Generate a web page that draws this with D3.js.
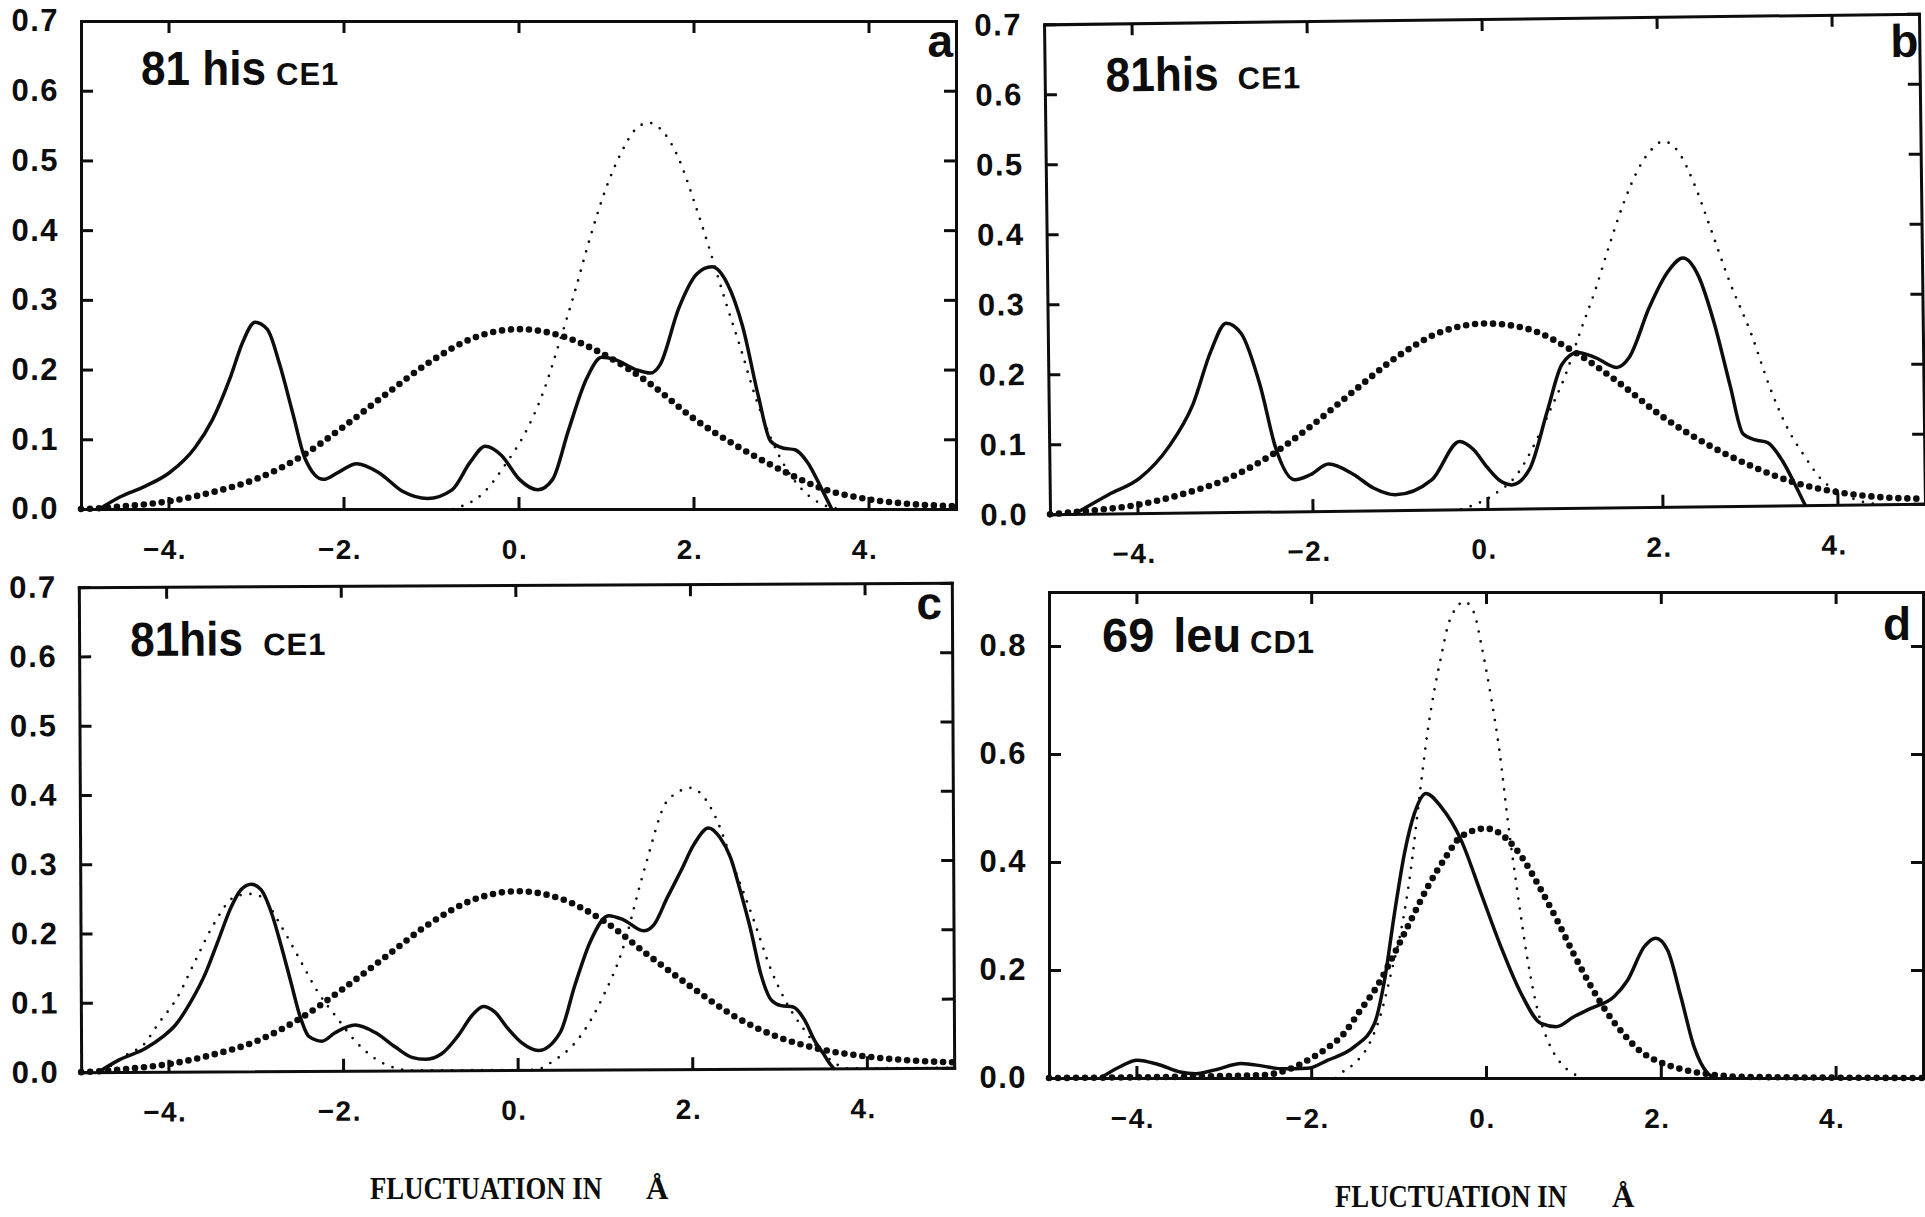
<!DOCTYPE html>
<html>
<head>
<meta charset="utf-8">
<script src="https://cdn.jsdelivr.net/npm/d3@7"></script>
<style>
  html, body { margin: 0; padding: 0; background: #fff; }
  svg { display: block; }
</style>
</head>
<body>
<svg id="fig" width="1925" height="1217"></svg>
<script>
// ---- tick values and labels ----
const xTickValues = [-4, -2, 0, 2, 4];
const xTickLabels = ["\u22124.", "\u22122.", "0.", "2.", "4."];
const yTicksHis = [0, 0.1, 0.2, 0.3, 0.4, 0.5, 0.6, 0.7];
const yLabelsHis = ["0.0", "0.1", "0.2", "0.3", "0.4", "0.5", "0.6", "0.7"];
const yTicksLeu = [0, 0.2, 0.4, 0.6, 0.8];
const yLabelsLeu = ["0.0", "0.2", "0.4", "0.6", "0.8"];

// ---- panel a : 81 his CE1 ----
const solidA = [[-4.79,0],[-4.55,0.0175],[-4.27,0.0325],[-3.99,0.052],[-3.70,0.0875],[-3.50,0.1275],[-3.29,0.19],[-3.15,0.24],[-3.01,0.268],[-2.87,0.2575],[-2.73,0.2075],[-2.58,0.1375],[-2.44,0.0725],[-2.23,0.0425],[-2.06,0.0525],[-1.85,0.065],[-1.60,0.0525],[-1.32,0.025],[-1.04,0.015],[-0.76,0.0275],[-0.55,0.0675],[-0.38,0.09],[-0.20,0.0775],[0.01,0.0425],[0.22,0.0275],[0.39,0.0425],[0.57,0.1125],[0.78,0.1875],[0.95,0.2175],[1.09,0.215],[1.34,0.2],[1.51,0.195],[1.62,0.2075],[1.83,0.2875],[2.04,0.3375],[2.21,0.3475],[2.39,0.3225],[2.56,0.2625],[2.74,0.1625],[2.88,0.0975],[3.02,0.0875],[3.16,0.085],[3.30,0.0675],[3.47,0.0275],[3.58,0]];
const thinA = [[-0.75,0],[-0.41,0.022],[-0.13,0.0675],[0.08,0.11],[0.29,0.17],[0.47,0.24],[0.64,0.31],[0.82,0.39],[1.0,0.46],[1.17,0.51],[1.34,0.545],[1.49,0.554],[1.66,0.54],[1.84,0.5],[2.01,0.44],[2.19,0.37],[2.36,0.30],[2.54,0.23],[2.71,0.16],[2.89,0.10],[3.06,0.058],[3.24,0.028],[3.45,0.008],[3.66,0]];
const boldA = [[-5,0],[-4.8,0.001],[-4.5,0.004],[-4,0.011],[-3.5,0.024],[-3,0.043],[-2.5,0.074],[-2,0.118],[-1.5,0.166],[-1,0.212],[-0.5,0.246],[0,0.258],[0.5,0.248],[1,0.22],[1.5,0.18],[2,0.13],[2.5,0.09],[3,0.056],[3.5,0.028],[4,0.014],[4.5,0.007],[5,0.004]];

// ---- panel b : 81 his CE1 ----
const solidB = [[-4.72,0],[-4.33,0.027],[-3.97,0.05],[-3.63,0.095],[-3.35,0.155],[-3.14,0.23],[-2.96,0.27],[-2.79,0.255],[-2.58,0.18],[-2.41,0.09],[-2.2,0.045],[-2.02,0.052],[-1.81,0.067],[-1.53,0.052],[-1.3,0.032],[-1.05,0.022],[-0.63,0.043],[-0.31,0.097],[-0.15,0.085],[0.0,0.06],[0.15,0.04],[0.28,0.034],[0.49,0.057],[0.7,0.14],[0.87,0.205],[1.05,0.222],[1.26,0.214],[1.5,0.2],[1.64,0.214],[1.88,0.286],[2.09,0.335],[2.27,0.355],[2.44,0.33],[2.62,0.26],[2.79,0.172],[2.93,0.103],[3.07,0.094],[3.21,0.09],[3.38,0.063],[3.52,0.029],[3.63,0]];
const thinB = [[-0.3,0],[0.07,0.02],[0.35,0.05],[0.56,0.095],[0.73,0.14],[0.91,0.19],[1.08,0.25],[1.26,0.31],[1.43,0.375],[1.60,0.435],[1.78,0.485],[1.92,0.51],[2.06,0.522],[2.23,0.507],[2.41,0.46],[2.58,0.40],[2.80,0.32],[3.04,0.245],[3.24,0.17],[3.44,0.11],[3.63,0.07],[3.83,0.035],[4.03,0.018],[4.25,0.005],[4.5,0]];
const boldB = [[-5,0],[-4.7,0.003],[-4.5,0.005],[-4,0.012],[-3.5,0.026],[-3,0.046],[-2.5,0.078],[-2,0.122],[-1.5,0.172],[-1,0.22],[-0.5,0.254],[0,0.265],[0.5,0.256],[1,0.224],[1.5,0.18],[2,0.13],[2.5,0.09],[3,0.058],[3.5,0.033],[4,0.018],[4.5,0.01],[5,0.007]];

// ---- panel c : 81 his CE1 ----
const solidC = [[-4.8,0],[-4.57,0.017],[-4.26,0.034],[-4.07,0.05],[-3.92,0.067],[-3.73,0.103],[-3.57,0.142],[-3.42,0.19],[-3.27,0.238],[-3.16,0.262],[-3.04,0.27],[-2.93,0.262],[-2.81,0.228],[-2.7,0.18],[-2.59,0.127],[-2.49,0.079],[-2.39,0.05],[-2.24,0.043],[-2.09,0.055],[-1.86,0.066],[-1.63,0.055],[-1.4,0.034],[-1.21,0.019],[-1.06,0.016],[-0.87,0.024],[-0.68,0.05],[-0.52,0.079],[-0.39,0.092],[-0.26,0.084],[-0.11,0.06],[0.05,0.039],[0.24,0.028],[0.49,0.054],[0.66,0.122],[0.84,0.185],[1.05,0.222],[1.22,0.216],[1.45,0.2],[1.57,0.209],[1.72,0.247],[1.88,0.286],[2.03,0.324],[2.2,0.348],[2.33,0.334],[2.45,0.305],[2.56,0.257],[2.68,0.199],[2.79,0.137],[2.91,0.099],[3.02,0.091],[3.16,0.089],[3.29,0.07],[3.4,0.041],[3.5,0.022],[3.57,0.008],[3.62,0]];
const thinC = [[-4.75,0],[-4.45,0.027],[-4.30,0.037],[-4.11,0.07],[-3.90,0.106],[-3.69,0.159],[-3.48,0.211],[-3.23,0.252],[-3.06,0.256],[-2.93,0.252],[-2.70,0.209],[-2.49,0.161],[-2.28,0.113],[-2.07,0.077],[-1.86,0.043],[-1.65,0.019],[-1.38,0.003],[-1.2,0],[0.2,0],[0.4,0.012],[0.7,0.045],[1.0,0.11],[1.2,0.17],[1.42,0.27],[1.5,0.305],[1.70,0.382],[1.84,0.399],[1.99,0.406],[2.18,0.387],[2.30,0.358],[2.49,0.291],[2.70,0.219],[2.91,0.142],[3.08,0.096],[3.29,0.055],[3.50,0.022],[3.8,0],[5,0]];
const boldC = [[-5,0],[-4.8,0.001],[-4.5,0.004],[-4,0.011],[-3.5,0.024],[-3,0.043],[-2.5,0.075],[-2,0.118],[-1.5,0.165],[-1,0.212],[-0.5,0.246],[0,0.258],[0.5,0.247],[1,0.214],[1.5,0.165],[2,0.118],[2.5,0.075],[3,0.045],[3.5,0.027],[4,0.017],[4.5,0.011],[5,0.008]];

// ---- panel d : 69 leu CD1 ----
const solidD = [[-4.41,0],[-4.2,0.02],[-3.99,0.033],[-3.75,0.025],[-3.5,0.011],[-3.32,0.008],[-3.1,0.015],[-2.8,0.027],[-2.55,0.022],[-2.34,0.017],[-2.04,0.018],[-1.81,0.033],[-1.505,0.058],[-1.276,0.101],[-1.161,0.181],[-1.047,0.305],[-0.933,0.416],[-0.819,0.49],[-0.686,0.527],[-0.514,0.502],[-0.286,0.441],[-0.057,0.342],[0.171,0.243],[0.4,0.157],[0.629,0.101],[0.8,0.095],[1.01,0.114],[1.2,0.129],[1.467,0.151],[1.62,0.181],[1.81,0.243],[1.943,0.259],[2.077,0.237],[2.229,0.151],[2.38,0.058],[2.534,0.009],[2.62,0]];
const thinD = [[-1.72,0],[-1.657,0.009],[-1.505,0.027],[-1.352,0.058],[-1.2,0.12],[-1.086,0.194],[-0.971,0.274],[-0.876,0.367],[-0.743,0.546],[-0.666,0.644],[-0.59,0.719],[-0.514,0.78],[-0.438,0.836],[-0.343,0.87],[-0.248,0.882],[-0.133,0.86],[-0.057,0.805],[0.057,0.706],[0.153,0.607],[0.248,0.478],[0.362,0.342],[0.476,0.219],[0.59,0.126],[0.705,0.07],[0.857,0.027],[0.99,0.009],[1.1,0]];
const boldD = [[-5,0],[-2.6,0.005],[-2.27,0.015],[-2.038,0.033],[-1.848,0.052],[-1.638,0.08],[-1.448,0.123],[-1.238,0.172],[-1.047,0.231],[-0.857,0.293],[-0.666,0.354],[-0.457,0.41],[-0.286,0.447],[0,0.462],[0.229,0.444],[0.419,0.407],[0.61,0.354],[0.811,0.293],[0.999,0.231],[1.193,0.172],[1.39,0.12],[1.582,0.08],[1.771,0.049],[1.98,0.03],[2.2,0.018],[2.5,0.008],[3,0.002],[5,0]];

// ---- layout of the four frames ----
const panels = [
  { letter: "a", res: "81 his", atom: "CE1", solid: solidA, thin: thinA, bold: boldA,
    yMax: 0.7, yTicks: yTicksHis, yLabels: yLabelsHis,
    box: { left: 81, right: 956, top: 21, bottom: 509 }, rot: 0,
    resPos: [141, 85], resScale: 0.92, resSpace: 0, atomPos: [276, 85], letterPos: [953, 57] },
  { letter: "b", res: "81his", atom: "CE1", solid: solidB, thin: thinB, bold: boldB,
    yMax: 0.7, yTicks: yTicksHis, yLabels: yLabelsHis,
    box: { left: 1047, right: 1922, top: 19, bottom: 509 }, rot: -0.7,
    resPos: [1108, 87], resScale: 0.92, resSpace: 0, atomPos: [1240, 86], letterPos: [1921, 62] },
  { letter: "c", res: "81his", atom: "CE1", solid: solidC, thin: thinC, bold: boldC,
    yMax: 0.7, yTicks: yTicksHis, yLabels: yLabelsHis,
    box: { left: 80, right: 953, top: 585, bottom: 1070 }, rot: -0.28,
    resPos: [131, 654], resScale: 0.92, resSpace: 0, atomPos: [264, 654], letterPos: [943, 621] },
  { letter: "d", res: "69 leu", atom: "CD1", solid: solidD, thin: thinD, bold: boldD,
    yMax: 0.9, yTicks: yTicksLeu, yLabels: yLabelsLeu,
    box: { left: 1049, right: 1923, top: 592, bottom: 1078 }, rot: 0,
    resPos: [1102, 652], resScale: 0.98, resSpace: 6, atomPos: [1250, 653], letterPos: [1911, 640] }
];

const INK = "#0d0d0d";
const SANS = "'Liberation Sans', Arial, Helvetica, sans-serif";
const SERIF = "'Liberation Serif', 'Times New Roman', serif";
const svg = d3.select("#fig");

panels.forEach(p => {
  const b = p.box;
  const cx = (b.left + b.right) / 2, cy = (b.top + b.bottom) / 2;
  const g = svg.append("g").attr("transform", `rotate(${p.rot},${cx},${cy})`);

  const x = d3.scaleLinear().domain([-5, 5]).range([b.left, b.right]);
  const y = d3.scaleLinear().domain([0, p.yMax]).range([b.bottom, b.top]);

  // frame: four axes with inward ticks
  const gB = g.append("g").attr("transform", `translate(0,${b.bottom})`)
    .call(d3.axisBottom(x).tickValues(xTickValues)
      .tickFormat((d, i) => xTickLabels[i]).tickSize(-12).tickSizeOuter(0).tickPadding(30));
  gB.selectAll("text").attr("dx", -4)
    .style("font", `bold 28px ${SANS}`).style("letter-spacing", "1.5px");

  g.append("g").attr("transform", `translate(0,${b.top})`)
    .call(d3.axisTop(x).tickValues(xTickValues).tickFormat("").tickSize(-12).tickSizeOuter(0));

  const gL = g.append("g").attr("transform", `translate(${b.left},0)`)
    .call(d3.axisLeft(y).tickValues(p.yTicks)
      .tickFormat((d, i) => p.yLabels[i]).tickSize(-12).tickSizeOuter(0).tickPadding(22));
  gL.selectAll("text").style("font", `bold 31px ${SANS}`).style("letter-spacing", "1.5px");

  g.append("g").attr("transform", `translate(${b.right},0)`)
    .call(d3.axisRight(y).tickValues(p.yTicks).tickFormat("").tickSize(-12).tickSizeOuter(0));

  g.selectAll(".domain").attr("stroke", INK).attr("stroke-width", 3).attr("stroke-linecap", "square");
  g.selectAll(".tick line").attr("stroke", INK).attr("stroke-width", 3);
  g.selectAll(".tick text").attr("fill", INK);

  const line = d3.line().x(d => x(d[0])).y(d => y(d[1])).curve(d3.curveMonotoneX);

  // heavy dotted curve
  g.append("path").datum(p.bold).attr("d", line)
    .attr("fill", "none").attr("stroke", INK).attr("stroke-width", 6.6)
    .attr("stroke-linecap", "round").attr("stroke-dasharray", "0 9");

  // fine dotted curve
  g.append("path").datum(p.thin).attr("d", line)
    .attr("fill", "none").attr("stroke", INK).attr("stroke-width", 2.7)
    .attr("stroke-linecap", "round").attr("stroke-dasharray", "0 10");

  // solid curve
  g.append("path").datum(p.solid).attr("d", line)
    .attr("fill", "none").attr("stroke", INK).attr("stroke-width", 3.5)
    .attr("stroke-linejoin", "round").attr("stroke-linecap", "round");

  // residue / atom label and panel letter
  g.append("text")
    .attr("transform", `translate(${p.resPos[0]},${p.resPos[1]}) scale(${p.resScale},1)`)
    .style("font", `bold 48px ${SANS}`).style("word-spacing", `${p.resSpace}px`)
    .attr("fill", INK).text(p.res);
  g.append("text").attr("x", p.atomPos[0]).attr("y", p.atomPos[1])
    .style("font", `bold 31px ${SANS}`).style("letter-spacing", "1px")
    .attr("fill", INK).text(p.atom);
  g.append("text").attr("x", p.letterPos[0]).attr("y", p.letterPos[1])
    .attr("text-anchor", "end")
    .style("font", `bold 46px ${SANS}`).attr("fill", INK).text(p.letter);
});

// shared x-axis titles under the lower row
const axisTitles = [
  { x: 370, y: 1199, ring: 646 },
  { x: 1335, y: 1207, ring: 1612 }
];
axisTitles.forEach(t => {
  svg.append("text").attr("x", t.x).attr("y", t.y)
    .attr("textLength", 232).attr("lengthAdjust", "spacingAndGlyphs")
    .style("font", `bold 31px ${SERIF}`).attr("fill", INK)
    .text("FLUCTUATION IN");
  svg.append("text").attr("x", t.ring).attr("y", t.y)
    .style("font", `bold 31px ${SERIF}`).attr("fill", INK)
    .text("\u00C5");
});
</script>
</body>
</html>
